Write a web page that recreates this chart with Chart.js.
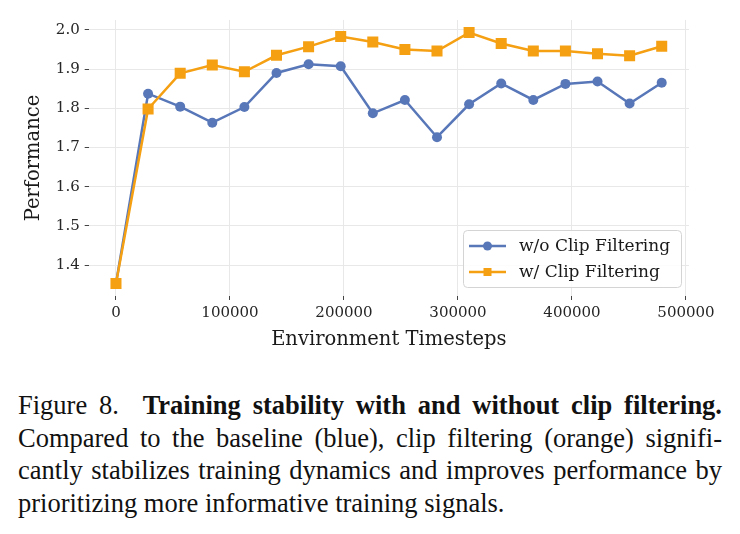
<!DOCTYPE html>
<html>
<head>
<meta charset="utf-8">
<script src="https://cdn.jsdelivr.net/npm/chart.js@4.4.1/dist/chart.umd.min.js"></script>
<style>
  html, body { margin: 0; padding: 0; background: #fff; }
  #wrap { position: relative; width: 740px; height: 534px; overflow: hidden; }
  #chartBox { position: absolute; left: 0; top: 0; width: 740px; height: 360px; }
  #caption {
    position: absolute; left: 18px; top: 389px; width: 704px;
    font-family: "Liberation Serif", "Times New Roman", serif;
    font-size: 26.5px; line-height: 32.5px; color: #111;
  }
  #caption .ln { white-space: nowrap; text-align: justify; text-align-last: justify; }
  #caption .ln.last { text-align-last: left; }
</style>
</head>
<body>
<div id="wrap">
  <div id="chartBox"><canvas id="perfChart" width="740" height="360"></canvas></div>
  <div id="caption">
    <div class="ln">Figure 8.&nbsp;&nbsp;<b>Training stability with and without clip filtering.</b></div>
    <div class="ln">Compared to the baseline (blue), clip filtering (orange) signifi-</div>
    <div class="ln">cantly stabilizes training dynamics and improves performance by</div>
    <div class="ln last">prioritizing more informative training signals.</div>
  </div>
</div>
<script>
// timesteps (x) and performance for both runs
const timesteps = [0, 28160, 56320, 84480, 112640, 140800, 168960, 197120, 225280,
  253440, 281600, 309760, 337920, 366080, 394240, 422400, 450560, 478720];
const noClip = [1.353, 1.837, 1.804, 1.763, 1.803, 1.890, 1.912, 1.907, 1.787,
  1.821, 1.726, 1.810, 1.863, 1.821, 1.862, 1.868, 1.812, 1.865];
const withClip = [1.353, 1.798, 1.889, 1.910, 1.893, 1.935, 1.957, 1.983, 1.969,
  1.950, 1.946, 1.993, 1.965, 1.946, 1.946, 1.939, 1.934, 1.958];
const xTicks = [0, 100000, 200000, 300000, 400000, 500000];
const yTicks = [1.4, 1.5, 1.6, 1.7, 1.8, 1.9, 2.0];
const seriesNames = ['w/o Clip Filtering', 'w/ Clip Filtering'];

const BLUE = '#5877b9';
const ORANGE = '#f59f12';
const FONT = "'DejaVu Serif', serif";

const toXY = (ys) => ys.map((y, i) => ({ x: timesteps[i], y: y }));

// legend drawn inside the plot, bottom-right, matplotlib style
const boxLegend = {
  id: 'boxLegend',
  afterDatasetsDraw(chart) {
    const { ctx, chartArea } = chart;
    const w = 218, h = 57;
    const x0 = chartArea.right - 8 - w, y0 = chartArea.bottom - 9 - h;
    ctx.save();
    ctx.beginPath();
    ctx.roundRect(x0 + 0.5, y0 + 0.5, w, h, 4);
    ctx.fillStyle = 'rgba(255,255,255,0.85)';
    ctx.fill();
    ctx.strokeStyle = '#d4d4d4';
    ctx.lineWidth = 1;
    ctx.stroke();
    const styles = [
      { color: BLUE, shape: 'circle' },
      { color: ORANGE, shape: 'square' }
    ];
    styles.forEach((s, i) => {
      const cy = y0 + 16 + i * 26;
      ctx.strokeStyle = s.color;
      ctx.lineWidth = 2.5;
      ctx.beginPath();
      ctx.moveTo(x0 + 6, cy);
      ctx.lineTo(x0 + 43, cy);
      ctx.stroke();
      ctx.fillStyle = s.color;
      ctx.beginPath();
      if (s.shape === 'circle') ctx.arc(x0 + 24.5, cy, 4.5, 0, Math.PI * 2);
      else ctx.rect(x0 + 20.5, cy - 4, 8, 8);
      ctx.fill();
      ctx.fillStyle = '#1a1a1a';
      ctx.font = '17px ' + FONT;
      ctx.textBaseline = 'middle';
      ctx.fillText(seriesNames[i], x0 + 56, cy + 1);
    });
    ctx.restore();
  }
};

new Chart(document.getElementById('perfChart'), {
  type: 'line',
  data: {
    datasets: [
      {
        label: seriesNames[0],
        data: toXY(noClip),
        borderColor: BLUE,
        backgroundColor: BLUE,
        borderWidth: 2.5,
        pointStyle: 'circle',
        pointRadius: 5,
        pointBorderWidth: 0,
        tension: 0,
        order: 1
      },
      {
        label: seriesNames[1],
        data: toXY(withClip),
        borderColor: ORANGE,
        backgroundColor: ORANGE,
        borderWidth: 2.5,
        pointStyle: 'rect',
        pointRadius: 7.8,
        pointBorderWidth: 0,
        tension: 0,
        order: 0
      }
    ]
  },
  options: {
    responsive: false,
    animation: false,
    layout: { padding: { top: 20, right: 51, bottom: 0, left: 0 } },
    plugins: {
      legend: { display: false },
      tooltip: { enabled: false }
    },
    scales: {
      x: {
        type: 'linear',
        min: -23936,
        max: 502656,
        afterBuildTicks: (axis) => { axis.ticks = xTicks.map(v => ({ value: v })); },
        afterFit: (axis) => { axis.height = 64; },
        border: { display: false },
        grid: { color: '#e8e8e8', lineWidth: 1, tickColor: '#444', tickLength: 4 },
        ticks: {
          padding: 4,
          color: '#262626',
          font: { family: FONT, size: 15 },
          maxRotation: 0,
          callback: (v) => String(v)
        },
        title: {
          display: true,
          text: 'Environment Timesteps',
          color: '#1a1a1a',
          font: { family: FONT, size: 19.5 },
          padding: { top: 0, bottom: 8 }
        }
      },
      y: {
        min: 1.321,
        max: 2.025,
        afterBuildTicks: (axis) => { axis.ticks = yTicks.map(v => ({ value: v })); },
        afterFit: (axis) => { axis.width = 88.7; },
        border: { display: false },
        grid: { color: '#e8e8e8', lineWidth: 1, tickColor: '#444', tickLength: 4 },
        ticks: {
          padding: 5,
          color: '#262626',
          font: { family: FONT, size: 15 },
          callback: (v) => v.toFixed(1)
        },
        title: {
          display: true,
          text: 'Performance',
          color: '#1a1a1a',
          font: { family: FONT, size: 19.5 },
          padding: { top: 22, bottom: 0 }
        }
      }
    }
  },
  plugins: [boxLegend]
});
</script>
</body>
</html>
